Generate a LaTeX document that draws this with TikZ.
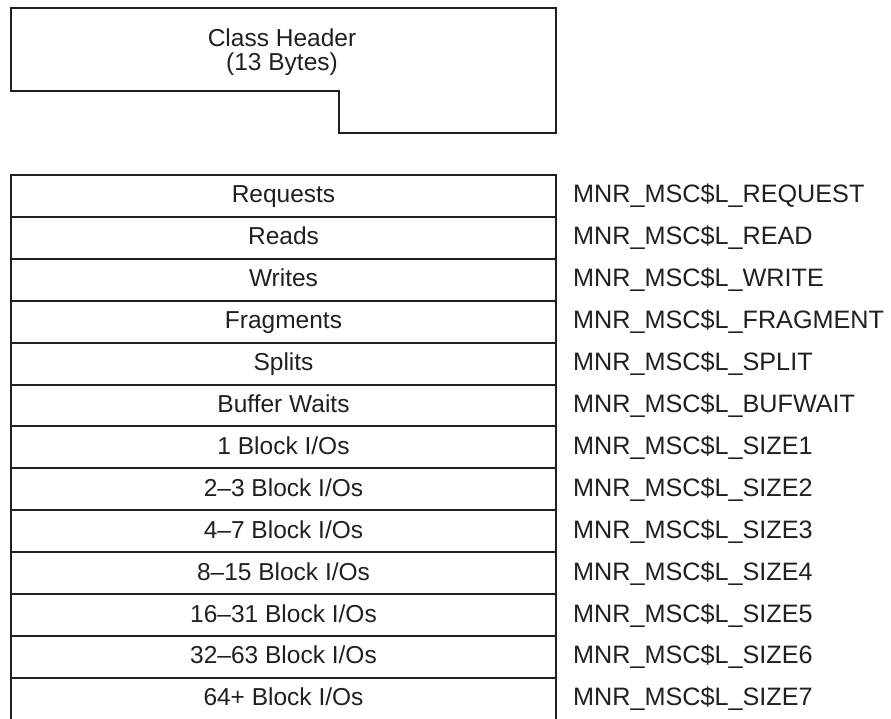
\documentclass[tikz,border=0pt]{standalone}
\usepackage{fontspec}
\setmainfont{Liberation Sans}
\definecolor{ink}{HTML}{231F20}
\begin{document}
\begin{tikzpicture}[x=1pt,y=-1pt,
  frame/.style={draw=ink,line width=2pt,line join=miter},
  sep/.style={draw=ink,line width=2pt},
  txt/.style={text=ink,inner sep=0pt,anchor=base,font=\fontsize{24.5}{28}\selectfont},
  lbl/.style={text=ink,inner sep=0pt,anchor=base west,font=\fontsize{25.2}{28}\selectfont}]
\useasboundingbox (0,0) rectangle (891,719);
% class header
\draw[frame] (10.5,8) -- (556,8) -- (556,133) -- (339,133) -- (339,91) -- (10.5,91) -- cycle;
\node[txt] (hdrA) at (282,47) {Class Header};
\node[txt] (hdrB) at (282,70.5) {(13 Bytes)};
% table frame
\draw[frame] (11,725) -- (11,175) -- (556,175) -- (556,725);
\foreach \k in {1,...,12}{
  \draw[sep] (11,175+41.9*\k) -- (556,175+41.9*\k);
}
\foreach \t/\l [count=\i from 0] in {
  {Requests}/REQUEST, {Reads}/READ, {Writes}/WRITE, {Fragments}/FRAGMENT,
  {Splits}/SPLIT, {Buffer Waits}/BUFWAIT, {1 Block I/Os}/SIZE1,
  {2--3 Block I/Os}/SIZE2, {4--7 Block I/Os}/SIZE3, {8--15 Block I/Os}/SIZE4,
  {16--31 Block I/Os}/SIZE5, {32--63 Block I/Os}/SIZE6, {64+ Block I/Os}/SIZE7}{
  \node[txt] (cell\i) at (283.5,203+41.9*\i) {\t};
  \node[lbl] (name\i) at (573,203+41.9*\i) {MNR\_MSC\$L\_\l};
}
\end{tikzpicture}
\end{document}
